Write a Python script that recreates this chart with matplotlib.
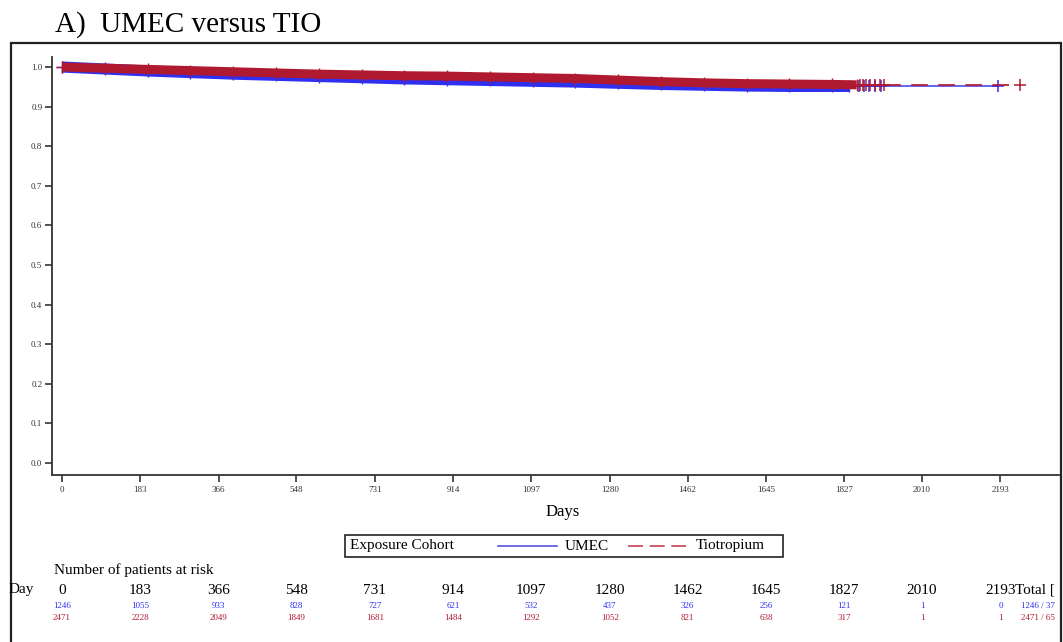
import matplotlib.pyplot as plt
import matplotlib.transforms as mtransforms
from matplotlib.patches import Rectangle
from matplotlib.lines import Line2D

# Kaplan-Meier estimates (day, survival)
umec_days = [0, 100, 200, 300, 400, 500, 600, 700, 800, 900, 1000, 1100, 1200,
             1300, 1400, 1500, 1600, 1700, 1800, 1840]
umec_surv = [1.0, 0.995, 0.990, 0.986, 0.982, 0.979, 0.976, 0.973, 0.970, 0.968,
             0.966, 0.964, 0.962, 0.959, 0.956, 0.954, 0.952, 0.951, 0.951, 0.951]
tio_days = [0, 100, 200, 300, 400, 500, 600, 700, 800, 900, 1000, 1100, 1200,
            1300, 1400, 1500, 1600, 1700, 1800, 1857]
tio_surv = [1.0, 0.997, 0.994, 0.991, 0.988, 0.985, 0.982, 0.980, 0.978, 0.977,
            0.975, 0.973, 0.971, 0.967, 0.963, 0.960, 0.958, 0.957, 0.956, 0.955]

# sparse censor marks after the dense part
umec_cens = [1862, 1875, 1885, 1900, 1915, 2187]
tio_cens = [1866, 1871, 1880, 1888, 1900, 1911, 1920, 2238]

ticks = [0, 183, 366, 548, 731, 914, 1097, 1280, 1462, 1645, 1827, 2010, 2193]
umec_risk = [1246, 1055, 933, 828, 727, 621, 532, 437, 326, 256, 121, 1, 0]
tio_risk = [2471, 2228, 2049, 1849, 1681, 1484, 1292, 1052, 821, 638, 317, 1, 1]
umec_total = "1246 / 37"
tio_total = "2471 / 65"

BLUE = "#2f2ff0"
RED = "#b01a30"
SERIF = "Liberation Serif"

W, H = 1063, 642
fig = plt.figure(figsize=(W / 100, H / 100), dpi=100)


def fx(px):
    return px / W


def fy(py):
    return 1 - py / H


ax = fig.add_axes([fx(52), fy(475), fx(1059) - fx(52), fy(57) - fy(475)])
ax.set_xlim(-23.4, 2330)
ax.set_ylim(-0.0303, 1.0253)
for s in ["top", "right"]:
    ax.spines[s].set_visible(False)
for s in ["left", "bottom"]:
    ax.spines[s].set_linewidth(1.3)
    ax.spines[s].set_color("#333333")

# dense censor marks over the first five years form a solid band
ax.plot(umec_days, umec_surv, color=BLUE, lw=8, solid_capstyle="butt")
ax.plot(umec_days, umec_surv, ls="none", marker="+", ms=9, mew=1.0, color=BLUE)
ax.plot([umec_days[-1], umec_cens[-1]], [umec_surv[-1]] * 2, color=BLUE, lw=1.3,
        alpha=0.8)
ax.plot(umec_cens, [umec_surv[-1]] * len(umec_cens), ls="none", marker="+",
        ms=8, mew=1.1, color=BLUE)

ax.plot(tio_days, tio_surv, color=RED, lw=6.5, solid_capstyle="butt")
ax.plot(tio_days, tio_surv, ls="none", marker="+", ms=8, mew=1.0, color=RED)
ax.plot([tio_days[-1], tio_cens[-1]], [tio_surv[-1]] * 2, color=RED, lw=1.5,
        ls=(0, (8, 5)), alpha=0.85)
ax.plot(tio_cens, [tio_surv[-1]] * len(tio_cens), ls="none", marker="+",
        ms=8, mew=1.1, color=RED)

ax.set_yticks([i / 10 for i in range(11)])
ax.set_yticklabels(["%.1f" % (i / 10) for i in range(11)])
ax.set_xticks(ticks)
ax.set_xticklabels([str(t) for t in ticks])
ax.tick_params(axis="both", length=5, width=1.2, color="#333333",
               labelsize=6.5, labelcolor="#333333")
ax.tick_params(axis="y", pad=2)
ax.tick_params(axis="x", pad=3)
for lab in ax.get_xticklabels() + ax.get_yticklabels():
    lab.set_fontfamily(SERIF)

fig.text(fx(563), fy(512), "Days", family=SERIF, fontsize=12,
         ha="center", va="center")

# title and outer frame
fig.text(fx(55), fy(25), "A)  UMEC versus TIO", family=SERIF, fontsize=21,
         ha="left", va="center")
fig.patches.append(Rectangle((fx(11), fy(660)), fx(1061) - fx(11), fy(43) - fy(660),
                             transform=fig.transFigure, fill=False,
                             edgecolor="#222222", lw=1.6))

# legend box
fig.patches.append(Rectangle((fx(345), fy(557)), fx(783) - fx(345), fy(535) - fy(557),
                             transform=fig.transFigure, fill=False,
                             edgecolor="#222222", lw=1.2))
ly = fy(546)
fig.text(fx(350), ly, "Exposure Cohort", family=SERIF, fontsize=11,
         ha="left", va="center")
fig.lines.append(Line2D([fx(498), fx(557)], [ly, ly], transform=fig.transFigure,
                        color="#5555e0", lw=1.2))
fig.text(fx(565), ly, "UMEC", family=SERIF, fontsize=11, ha="left", va="center")
fig.lines.append(Line2D([fx(628), fx(686)], [ly, ly], transform=fig.transFigure,
                        color="#c84050", lw=1.2, ls=(0, (9, 4))))
fig.text(fx(696), ly, "Tiotropium", family=SERIF, fontsize=11,
         ha="left", va="center")

# number at risk table
trans = mtransforms.blended_transform_factory(ax.transData, fig.transFigure)
fig.text(fx(54), fy(570), "Number of patients at risk", family=SERIF,
         fontsize=11, ha="left", va="center")
fig.text(fx(9), fy(590), "Day", family=SERIF, fontsize=11, ha="left", va="center")
for t, u, r in zip(ticks, umec_risk, tio_risk):
    ax.text(t, fy(590), str(t), transform=trans, family=SERIF, fontsize=11,
            ha="center", va="center", clip_on=False)
    ax.text(t, fy(606), str(u), transform=trans, family=SERIF, fontsize=6.5,
            ha="center", va="center", color=BLUE, clip_on=False)
    ax.text(t, fy(618), str(r), transform=trans, family=SERIF, fontsize=6.5,
            ha="center", va="center", color=RED, clip_on=False)
fig.text(fx(1015), fy(590), "Total [", family=SERIF, fontsize=11,
         ha="left", va="center")
fig.text(fx(1021), fy(606), umec_total, family=SERIF, fontsize=6.5,
         ha="left", va="center", color=BLUE)
fig.text(fx(1021), fy(618), tio_total, family=SERIF, fontsize=6.5,
         ha="left", va="center", color=RED)

fig.savefig("out.png", dpi=100)
